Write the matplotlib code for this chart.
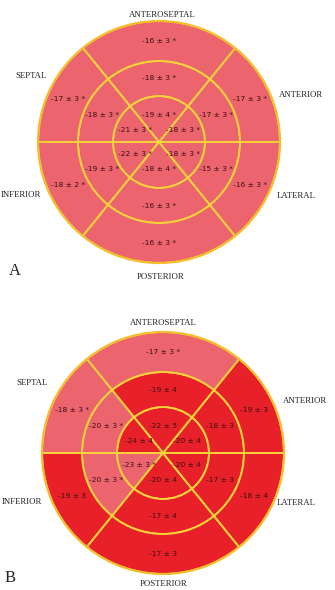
import numpy as np
import matplotlib
matplotlib.use('Agg')
import matplotlib.pyplot as plt

# Segment order (counter-clockwise from 3 o'clock):
# anterior, anteroseptal, septal, inferior, posterior, lateral
edges_deg = [0, 51, 129, 180, 231, 309, 360]
ring_radii = [0, 46, 81, 121]  # inner, middle, outer ring edges

# Panel A: means, SDs, significance (*) per ring [inner, middle, outer]
a_mean = [[-18, -19, -21, -22, -18, -18],
          [-17, -18, -18, -19, -16, -15],
          [-17, -16, -17, -18, -16, -16]]
a_sd = [[3, 4, 3, 3, 4, 3],
        [3, 3, 3, 3, 3, 3],
        [3, 3, 3, 2, 3, 3]]
a_sig = [[1, 1, 1, 1, 1, 1],
         [1, 1, 1, 1, 1, 1],
         [1, 1, 1, 1, 1, 1]]

# Panel B
b_mean = [[-20, -22, -24, -23, -20, -20],
          [-18, -19, -20, -20, -17, -17],
          [-19, -17, -18, -19, -17, -18]]
b_sd = [[4, 5, 4, 3, 4, 4],
        [3, 4, 3, 3, 4, 3],
        [3, 3, 3, 3, 3, 4]]
b_sig = [[0, 0, 0, 1, 0, 0],
         [0, 0, 1, 1, 0, 0],
         [0, 1, 1, 0, 0, 0]]

region_names = ['ANTEROSEPTAL', 'SEPTAL', 'ANTERIOR', 'INFERIOR', 'LATERAL', 'POSTERIOR']

PINK = '#EC646E'
RED = '#E8202A'
YELLOW = '#F8D43A'
BORDER = '#F2BE2E'
TXT = '#3A0F12'

W, H = 335, 590
fig = plt.figure(figsize=(W / 100, H / 100), dpi=100, facecolor='white')


def px(x, y):
    return x / W, 1 - y / H


def bullseye(cx, cy, means, sds, sig):
    R = ring_radii[-1]
    l, b = px(cx - R, cy + R)
    ax = fig.add_axes([l, b, 2 * R / W, 2 * R / H], projection='polar')
    edges = np.deg2rad(edges_deg)
    widths = np.diff(edges)
    centers = edges[:-1] + widths / 2
    for k in range(3):
        cols = [PINK if s else RED for s in sig[k]]
        ax.bar(centers, ring_radii[k + 1] - ring_radii[k], width=widths,
               bottom=ring_radii[k], color=cols, edgecolor=YELLOW,
               linewidth=1.4, align='center')
        rmid = (ring_radii[k] + ring_radii[k + 1]) / 2
        if k == 0:
            rmid = 27
        for t, m, s, g in zip(centers, means[k], sds[k], sig[k]):
            lab = f'{m} \u00b1 {s}' + (' *' if g else '')
            ax.text(t, rmid, lab, ha='center', va='center', fontsize=5.4,
                    color=TXT, family='DejaVu Sans')
    ax.set_ylim(0, R)
    ax.set_xticks([])
    ax.set_yticks([])
    ax.grid(False)
    ax.spines['polar'].set_color(BORDER)
    ax.spines['polar'].set_linewidth(1.6)
    ax.set_facecolor('none')
    return ax


bullseye(159, 142, a_mean, a_sd, a_sig)
bullseye(163, 453, b_mean, b_sd, b_sig)

# outside region labels (pixel positions) for each panel
lab_pos_a = [(162, 15), (31, 76), (301, 95), (21, 195), (296, 196), (161, 277)]
lab_pos_b = [(163, 323), (32, 383), (305, 401), (22, 502), (296, 503), (164, 584)]
for pos in (lab_pos_a, lab_pos_b):
    for name, (x, y) in zip(region_names, pos):
        fig.text(*px(x, y), name, ha='center', va='center', fontsize=6.3,
                 family='Liberation Serif', color='#222222')

fig.text(*px(15, 271), 'A', ha='center', va='center', fontsize=12,
         family='Liberation Serif', color='#222222')
fig.text(*px(10, 578), 'B', ha='center', va='center', fontsize=12,
         family='Liberation Serif', color='#222222')

fig.savefig('out.png', dpi=100, facecolor='white')
